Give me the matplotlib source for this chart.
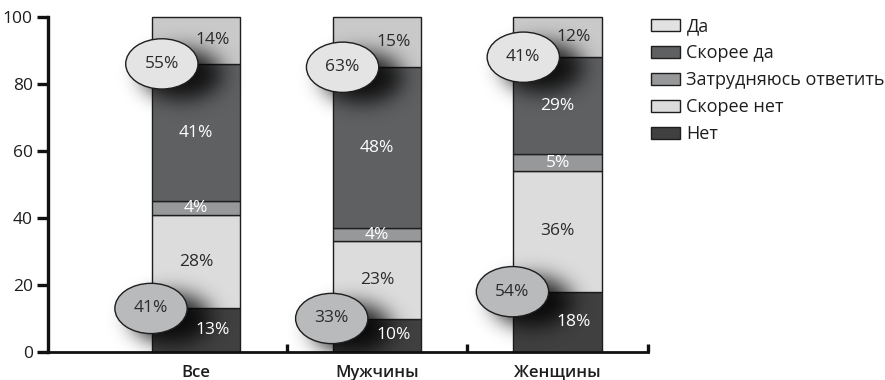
import numpy as np
import matplotlib
matplotlib.use("Agg")
import matplotlib.pyplot as plt
from matplotlib.patches import Ellipse, Patch

plt.rcParams['font.family'] = ['Open Sans', 'DejaVu Sans']

# Survey answers by group, percent
groups = ["Все", "Мужчины", "Женщины"]
answers = ["Да", "Скорее да", "Затрудняюсь ответить", "Скорее нет", "Нет"]
net = [13, 10, 18]
rather_no = [28, 23, 36]
hard_to_say = [4, 4, 5]
rather_yes = [41, 48, 29]
yes = [14, 15, 12]
# combined totals shown in the bubbles
total_yes = [55, 63, 41]
total_no = [41, 33, 54]
y_ticks = [0, 20, 40, 60, 80, 100]

colors = {
    "Да": "#c9c9ca",
    "Скорее да": "#5f6062",
    "Затрудняюсь ответить": "#97989a",
    "Скорее нет": "#dcdcdd",
    "Нет": "#404041",
}
legend_colors = {
    "Да": "#e2e2e3",
    "Скорее да": "#5f6062",
    "Затрудняюсь ответить": "#97989a",
    "Скорее нет": "#dcdcdd",
    "Нет": "#404041",
}
text_colors = {
    "Да": "#2b2b2b",
    "Скорее да": "white",
    "Затрудняюсь ответить": "white",
    "Скорее нет": "#2b2b2b",
    "Нет": "white",
}

W, H = 885, 380
fig = plt.figure(figsize=(W / 100, H / 100), dpi=100)
ax = fig.add_axes([48 / W, (H - 352) / H, (648 - 48) / W, (352 - 17) / H])
x0, x1 = -0.82, 2.5
ax.set_xlim(x0, x1)
ax.set_ylim(0, 100)

x = np.arange(len(groups))
bw = 0.49
stack = [("Нет", net), ("Скорее нет", rather_no),
         ("Затрудняюсь ответить", hard_to_say),
         ("Скорее да", rather_yes), ("Да", yes)]
bottom = np.zeros(len(groups))
for name, vals in stack:
    vals = np.array(vals, dtype=float)
    ax.bar(x, vals, bw, bottom=bottom, color=colors[name],
           edgecolor="#1e1e1e", linewidth=1.0, zorder=2, clip_on=False)
    for i, v in enumerate(vals):
        dx = 0.09 if name in ("Да", "Нет") else 0.0
        ax.text(x[i] + dx, bottom[i] + v / 2, f"{int(v)}%", ha="center",
                va="center", fontsize=12.5, color=text_colors[name], zorder=6)
    bottom += vals

# Bubble positions: totals sit on the boundaries of the extreme segments
ell_w, ell_h = 0.40, 15.0
bubbles = []
for i in range(len(groups)):
    bubbles.append((x[i] - 0.19, 100 - yes[i], total_yes[i], "#e4e4e5"))
    bubbles.append((x[i] - 0.25, net[i], total_no[i], "#b9babb"))

# Soft drop shadow behind the bubbles
nx, ny = 900, 500
gx = np.linspace(x0, x1, nx)
gy = np.linspace(0, 100, ny)
GX, GY = np.meshgrid(gx, gy)
mask = np.zeros_like(GX)
for bx, by, _, _ in bubbles:
    sx, sy = bx + 0.11, by - 3.0
    mask = np.maximum(mask, (((GX - sx) / (ell_w / 2 + 0.02)) ** 2 +
                             ((GY - sy) / (ell_h / 2)) ** 2 <= 1).astype(float))

def blur(a, sigma, axis):
    r = int(3 * sigma)
    k = np.exp(-0.5 * (np.arange(-r, r + 1) / sigma) ** 2)
    k /= k.sum()
    return np.apply_along_axis(lambda m: np.convolve(m, k, mode="same"), axis, a)

px_per_x = nx / ((x1 - x0) * 181)
px_per_y = ny / 335
shadow = blur(mask, 11 * px_per_x, 1)
shadow = blur(shadow, 10 * px_per_y, 0)
rgba = np.zeros((ny, nx, 4))
rgba[..., 3] = np.clip(shadow * 0.85, 0, 1)
ax.imshow(rgba, extent=(x0, x1, 0, 100), origin="lower", aspect="auto",
          zorder=3, interpolation="bilinear")

for bx, by, val, fc in bubbles:
    ax.add_patch(Ellipse((bx, by), ell_w, ell_h, facecolor=fc,
                         edgecolor="#1e1e1e", linewidth=1.0, zorder=4,
                         clip_on=False))
    ax.text(bx, by, f"{val}%", ha="center", va="center", fontsize=12.5,
            color="#2b2b2b", zorder=6)

# Axes styling
for s in ("top", "right"):
    ax.spines[s].set_visible(False)
ax.spines["left"].set_linewidth(2.4)
ax.spines["bottom"].set_linewidth(2.0)
ax.spines["left"].set_color("#111111")
ax.spines["bottom"].set_color("#111111")
ax.set_yticks(y_ticks)
ax.tick_params(axis="y", length=8, width=2.4, direction="out",
               labelsize=12.5, pad=3, color="#111111", labelcolor="#1e1e1e")
ax.set_xticks([0.5, 1.5, 2.5])
ax.set_xticklabels([])
ax.tick_params(axis="x", length=6, width=2.4, direction="in", color="#111111")
for i, g in enumerate(groups):
    ax.text(x[i], -6.2, g, ha="center", va="center", fontsize=12,
            fontweight="semibold", color="#1e1e1e",
            transform=ax.transData)

handles = [Patch(facecolor=legend_colors[a], edgecolor="#1e1e1e",
                 linewidth=1.0) for a in answers]
fig.legend(handles, answers, loc="upper left",
           bbox_to_anchor=(644 / W, 1 - 10 / H), frameon=False,
           fontsize=13, handlelength=1.6, handleheight=0.7,
           handletextpad=0.35, labelspacing=0.5, borderaxespad=0,
           labelcolor="#1e1e1e")

fig.savefig("out.png", dpi=100)
